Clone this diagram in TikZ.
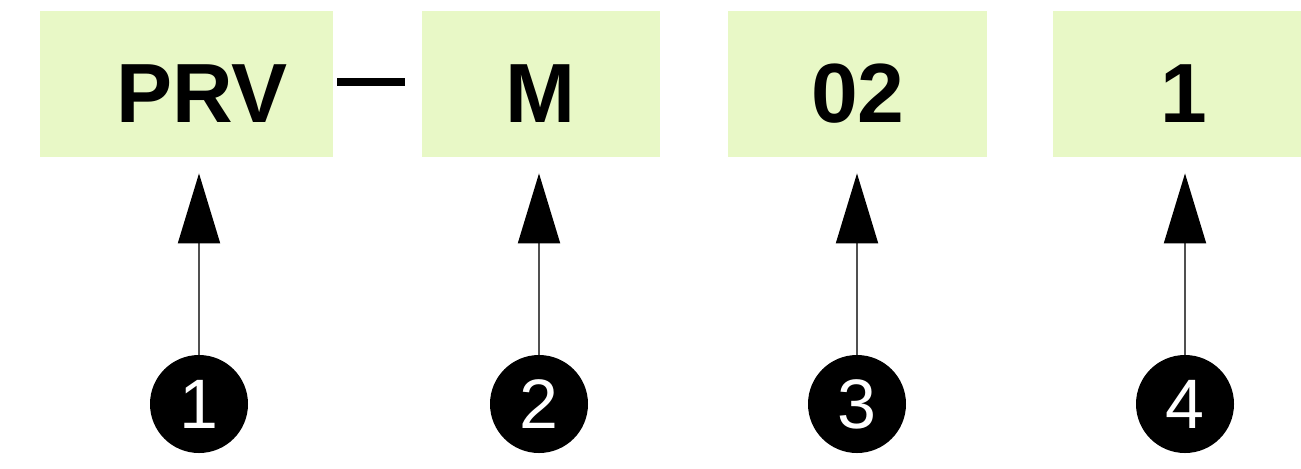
\documentclass[tikz,border=0pt]{standalone}
\usepackage{fontspec}
\setmainfont{Liberation Sans}
\usetikzlibrary{arrows.meta}
\definecolor{boxgreen}{RGB}{232,248,198}
\definecolor{arrowgray}{RGB}{80,80,80}
\tikzset{
  codebox/.style={rectangle, fill=boxgreen, draw=none, inner sep=0pt, minimum height=73pt},
  codetext/.style={anchor=base, inner sep=0pt, font=\fontsize{42pt}{42pt}\selectfont\bfseries},
  callout/.style={circle, fill=black, text=white, inner sep=0pt, minimum size=49pt,
    font=\fontsize{35pt}{35pt}\selectfont},
  pointer/.style={draw=arrowgray, line width=1pt,
    -{Triangle[length=35pt,width=21pt,fill=black,color=black]}, shorten >=8pt},
}
\begin{document}
\begin{tikzpicture}[x=0.5pt,y=-0.5pt]
\useasboundingbox (0,0) rectangle (1301,468);
% boxes
\node[codebox, minimum width=146.5pt] (b1) at (186.5,84) {};
\node[codebox, minimum width=119pt] (b2) at (541,84) {};
\node[codebox, minimum width=129.5pt] (b3) at (857.5,84) {};
\node[codebox, minimum width=131pt] (b4) at (1184,84) {};
% texts
\node[codetext] (t1) at (202,122) {PRV};
\node[codetext] (t2) at (540,122) {M};
\node[codetext] (t3) at (858,122) {02};
\node[codetext] (t4) at (1184,122) {1};
% dash
\draw[line width=4pt] (337,82) -- (405,82);
% callouts
\node[callout] (c1) at (199,404) {\raisebox{-2pt}{1}};
\node[callout] (c2) at (539,404) {\raisebox{-2pt}{2}};
\node[callout] (c3) at (857,404) {\raisebox{-2pt}{3}};
\node[callout] (c4) at (1185,404) {\raisebox{-2pt}{4}};
% arrows
\draw[pointer] (c1.north) -- (c1.north |- b1.south);
\draw[pointer] (c2.north) -- (c2.north |- b2.south);
\draw[pointer] (c3.north) -- (c3.north |- b3.south);
\draw[pointer] (c4.north) -- (c4.north |- b4.south);
\end{tikzpicture}
\end{document}
